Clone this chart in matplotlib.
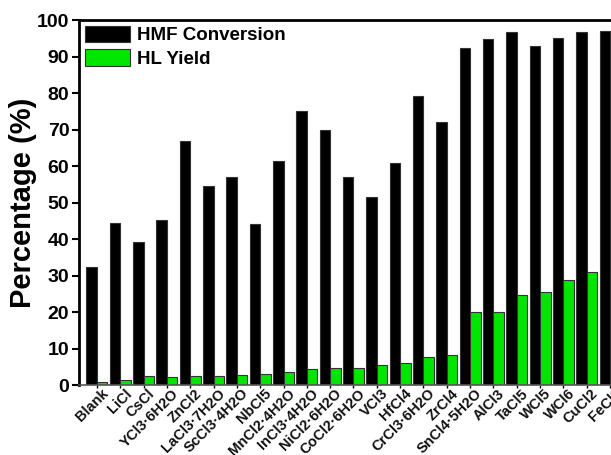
import numpy as np
import matplotlib.pyplot as plt

plt.rcParams['font.family'] = ['Liberation Sans', 'DejaVu Sans']

# catalysts and results
catalysts = ['Blank', 'LiCl', 'CsCl', 'YCl3·6H2O', 'ZnCl2', 'LaCl3·7H2O', 'ScCl3·4H2O',
             'NbCl5', 'MnCl2·4H2O', 'InCl3·4H2O', 'NiCl2·6H2O', 'CoCl2·6H2O', 'VCl3',
             'HfCl4', 'CrCl3·6H2O', 'ZrCl4', 'SnCl4·5H2O', 'AlCl3', 'TaCl5', 'WCl5',
             'WCl6', 'CuCl2', 'FeCl3']
hmf_conversion = [32.2, 44.3, 39.2, 45.1, 66.8, 54.5, 57.1, 44.0, 61.3, 75.0, 69.8,
                  56.9, 51.5, 60.8, 79.2, 72.0, 92.2, 94.7, 96.7, 93.0, 95.0, 96.7, 97.0]
hl_yield = [0.7, 1.3, 2.4, 2.3, 2.6, 2.6, 2.7, 3.1, 3.6, 4.3, 4.8,
            4.8, 5.4, 6.0, 7.6, 8.2, 19.9, 19.9, 24.7, 25.4, 28.9, 31.1, 31.3]

x = np.arange(len(catalysts))
w = 0.45

fig = plt.figure(figsize=(6.11, 4.55), dpi=100)
ax = fig.add_axes([0.1293, 0.1538, 0.8985, 0.8022])

ax.bar(x - w / 2, hmf_conversion, w, color='black', edgecolor='#333333',
       linewidth=0.8, label='HMF Conversion')
ax.bar(x + w / 2, hl_yield, w, color='#00e600', edgecolor='#333333',
       linewidth=0.8, label='HL Yield')

ax.set_xlim(-0.77, len(catalysts) - 0.23)
ax.set_ylim(0, 100)
ax.set_yticks(np.arange(0, 101, 10))
ax.set_xticks(x)
ax.set_xticklabels([])
# slanted catalyst names, placed by hand so they sit close to the axis
for xi, name in zip(x, catalysts):
    ax.annotate(name, xy=(xi, 0), xycoords=('data', 'axes fraction'),
                xytext=(3, -1), textcoords='offset points', rotation=45,
                ha='right', va='top', rotation_mode='anchor',
                fontsize=10.5, fontweight='bold', color='#111111',
                annotation_clip=False)
for lbl in ax.get_yticklabels():
    lbl.set_fontweight('bold')
ax.tick_params(axis='y', labelsize=14, width=1.5, length=5, direction='out', pad=2)
ax.tick_params(axis='x', length=2, width=1, direction='out')
ax.set_ylabel('Percentage (%)', fontsize=21, fontweight='bold')
ax.yaxis.set_label_coords(-0.077, 0.5)

for s in ['left', 'top']:
    ax.spines[s].set_linewidth(2)
ax.spines['bottom'].set_linewidth(1.2)
ax.spines['bottom'].set_color('#555555')

ax.legend(loc='upper left', frameon=False, prop={'weight': 'bold', 'size': 13.5},
          handlelength=2.4, handleheight=1.0, borderaxespad=0.1, borderpad=0.2,
          labelspacing=0.25, handletextpad=0.4)

fig.savefig('out.png', dpi=100)
